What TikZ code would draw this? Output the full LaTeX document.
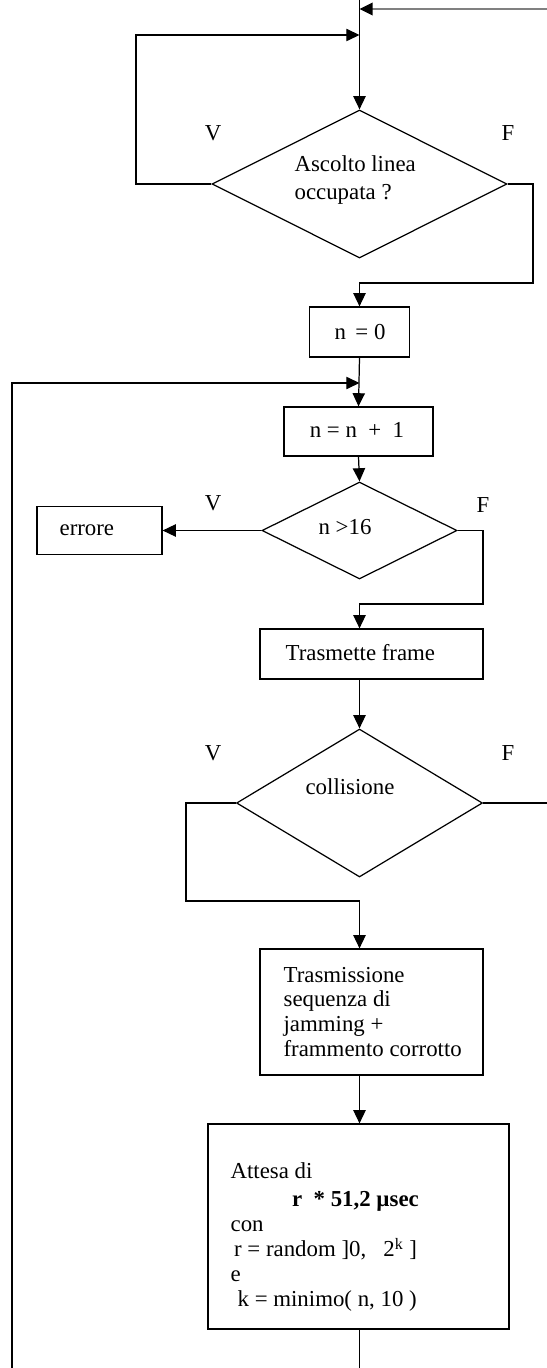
\documentclass[tikz,border=0pt]{standalone}
\usepackage{fontspec}
\setmainfont{Liberation Serif}
\usetikzlibrary{arrows.meta,shapes.geometric}
\definecolor{linegray}{RGB}{128,128,128}

\begin{document}
\begin{tikzpicture}[x=0.02cm,y=-0.02cm,line width=0.7pt,
        >={Triangle[length=7.5pt,width=7pt]},
        font=\fontsize{13}{14.2}\selectfont,
        box/.style={draw,rectangle,inner sep=0pt},
        decision/.style={draw,diamond,inner sep=0pt},
        txt/.style={inner sep=0pt,align=left}]
                \useasboundingbox (0,0) rectangle (547,1368);
                % blocks
                \node[decision,minimum width=5.9cm,minimum height=2.96cm] (ascolto) at (359.5,184) {};
                \node[box,minimum width=2cm,minimum height=1cm] (nzero) at (359.5,332) {};
                \node[box,minimum width=2.98cm,minimum height=0.98cm] (ninc) at (358.5,431.5) {};
                \node[decision,minimum width=3.9cm,minimum height=1.94cm] (nmax) at (359.5,530.5) {};
                \node[box,minimum width=2.5cm,minimum height=0.96cm] (errore) at (99.5,530.5) {};
                \node[box,minimum width=4.46cm,minimum height=1cm] (trasm) at (371.5,654) {};
                \node[decision,minimum width=4.92cm,minimum height=2.96cm] (coll) at (359.5,803) {};
                \node[box,minimum width=4.46cm,minimum height=2.52cm] (jam) at (371.5,1012) {};
                \node[box,minimum width=6.02cm,minimum height=4.1cm] (attesa) at (358.5,1226.5) {};
                % texts
                \node[txt,anchor=west] (tascolto) at (294,180) {Ascolto linea\\[2pt]occupata ?};
                \node[txt] (tnzero) at (360,332) {n \,= 0};
                \node[txt] (tninc) at (357,430) {n = n \ + \ 1};
                \node[txt] (tnmax) at (345,527) {n >16};
                \node[txt,anchor=west] (terrore) at (59,530) {errore};
                \node[txt,anchor=west] (ttrasm) at (285,653) {Trasmette frame};
                \node[txt] (tcoll) at (350,787) {collisione};
                \node[txt,anchor=west] (tjam) at (283,1012) {Trasmissione\\sequenza di\\jamming +\\frammento corrotto};
                \node[txt,anchor=west] (tattesa) at (230,1237) {Attesa di\\[2pt]\hspace*{35pt}\textbf{r \ *\ 51,2 µsec}\\con\\\hspace*{2pt}r = random ]0,\ \ \ 2\textsuperscript{k} ]\\e\\\hspace*{4pt}k = minimo( n, 10 )};
                % V / F
                \node (vascolto) at (213,133) {V};
                \node (fascolto) at (508,133) {F};
                \node (vnmax) at (213,503) {V};
                \node (fnmax) at (483,505) {F};
                \node (vcoll) at (213,753) {V};
                \node (fcoll) at (508,753) {F};
                % connectors
                \coordinate (top) at (359.5,0);
                \coordinate (feed) at (547,9);
                \coordinate (jloop) at (359.5,35);
                \coordinate (vloop) at (136,35);
                \coordinate (fcorner) at (533,283);
                \coordinate (back) at (12,1368);
                \coordinate (jback) at (359.5,383);
                \coordinate (fcorner2) at (483,604);
                \coordinate (vcorner) at (186,901);
                \coordinate (fout) at (547,803);
                \coordinate (bottom) at (359,1368);
                \draw[->] (top) -- (ascolto.north);
                \draw[-{Triangle[length=7.5pt,width=7pt,color=black]},linegray,line width=1.6pt] (feed) -- (feed -| top);
                \draw[->] (ascolto.west) -| (vloop) -- (jloop);
                \draw[->] (ascolto.east) -| (fcorner) -| (nzero.north);
                \draw[->] (nzero.south) -- (ninc.north);
                \draw[->] (back) |- (jback);
                \draw[->] (ninc.south) -- (nmax.north);
                \draw[->] (nmax.west) -- (errore.east);
                \draw[->] (nmax.east) -| (fcorner2) -| (trasm.north -| nmax);
                \draw[->] (trasm.south -| coll) -- (coll.north);
                \draw[->] (coll.west) -| (vcorner) -| (jam.north -| coll);
                \draw (coll.east) -- (fout);
                \draw[->] (jam.south -| coll) -- (attesa.north -| coll);
                \draw (attesa.south -| coll) -- (bottom -| coll);
            \end{tikzpicture}
\end{document}
